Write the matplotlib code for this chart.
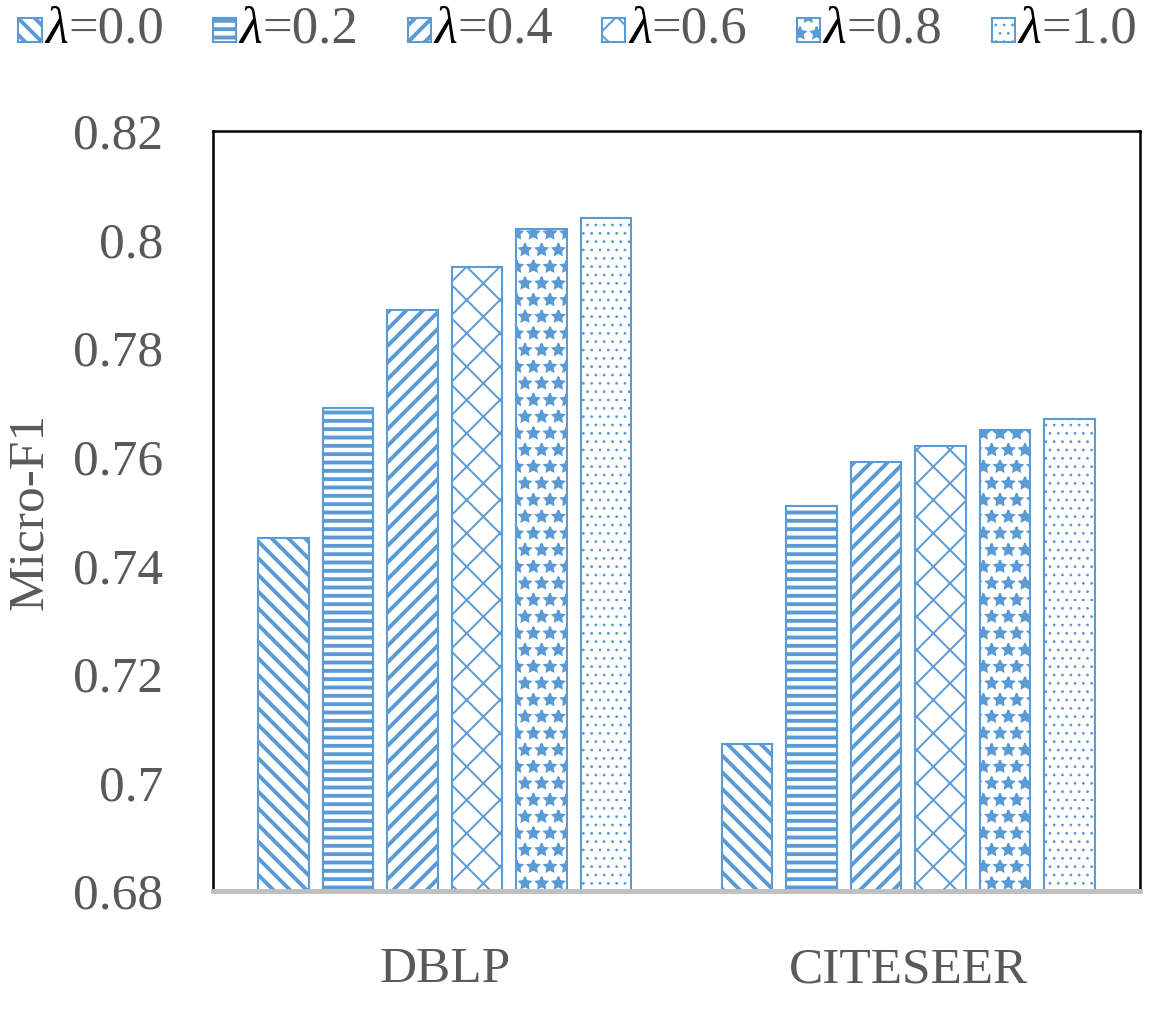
import numpy as np
import matplotlib
matplotlib.use("Agg")
import matplotlib.pyplot as plt
from matplotlib.patches import Rectangle

# data
datasets = ["DBLP", "CITESEER"]
lambdas = ["0.0", "0.2", "0.4", "0.6", "0.8", "1.0"]
dblp = [0.745, 0.769, 0.787, 0.795, 0.802, 0.804]
citeseer = [0.707, 0.751, 0.759, 0.762, 0.765, 0.767]
yticks = [0.68, 0.7, 0.72, 0.74, 0.76, 0.78, 0.8, 0.82]
ytick_labels = ["0.68", "0.7", "0.72", "0.74", "0.76", "0.78", "0.8", "0.82"]

hatches = ["\\\\", "--", "//", "x", "*", ".."]
hatch_lw = [2.8, 2.8, 2.8, 1.4, 1.5, 0.8]
blue = "#5b9bd5"
gray = "#595959"

plt.rcParams["font.family"] = ["Liberation Serif", "DejaVu Serif"]
plt.rcParams["hatch.color"] = blue

fig = plt.figure(figsize=(11.55, 10.18), dpi=100)
ax = fig.add_axes([0.1844, 0.1248, 0.8026, 0.7465])

x = np.arange(len(datasets))
width = 0.109
step = 0.139
vals = np.array([dblp, citeseer])
for i in range(len(lambdas)):
    off = (i - 2.5) * step
    with plt.rc_context({"hatch.linewidth": hatch_lw[i]}):
        ax.bar(x + off, vals[:, i], width, bottom=0, color="white",
               edgecolor=blue, linewidth=1.5, hatch=hatches[i])

ax.set_ylim(0.68, 0.82)
ax.set_xlim(-0.5, 1.5)
ax.set_yticks(yticks)
ax.set_yticklabels(ytick_labels)
ax.set_xticks(x)
ax.set_xticklabels(datasets)
ax.tick_params(axis="y", length=0, pad=36, labelsize=37, labelcolor=gray)
ax.tick_params(axis="x", length=0, pad=40, labelsize=37, labelcolor=gray)
ax.set_ylabel("Micro-F1", fontsize=37, color=gray, labelpad=14)

for s in ["top", "left", "right"]:
    ax.spines[s].set_color("black")
    ax.spines[s].set_linewidth(1.8)
ax.spines["bottom"].set_color("#bfbfbf")
ax.spines["bottom"].set_linewidth(3.5)
ax.spines["bottom"].set_zorder(5)

# legend drawn by hand so the lambda can be black and the rest gray
for i, lab in enumerate(lambdas):
    x0 = 0.016 + i * 0.1685
    y0 = 0.959
    with plt.rc_context({"hatch.linewidth": hatch_lw[i]}):
        r = Rectangle((x0, y0), 0.02, 0.023, transform=fig.transFigure,
                      facecolor="white", edgecolor=blue, linewidth=1.5,
                      hatch=hatches[i])
    fig.patches.append(r)
    t = fig.text(x0 + 0.023, 0.971, "\u03bb", fontsize=38, style="italic",
                 color="black", va="center", ha="left")
    ax.annotate("=" + lab, xy=(1, 0.5), xycoords=t, fontsize=38, color=gray,
                va="center", ha="left", annotation_clip=False)

fig.savefig("out.png", dpi=100)
